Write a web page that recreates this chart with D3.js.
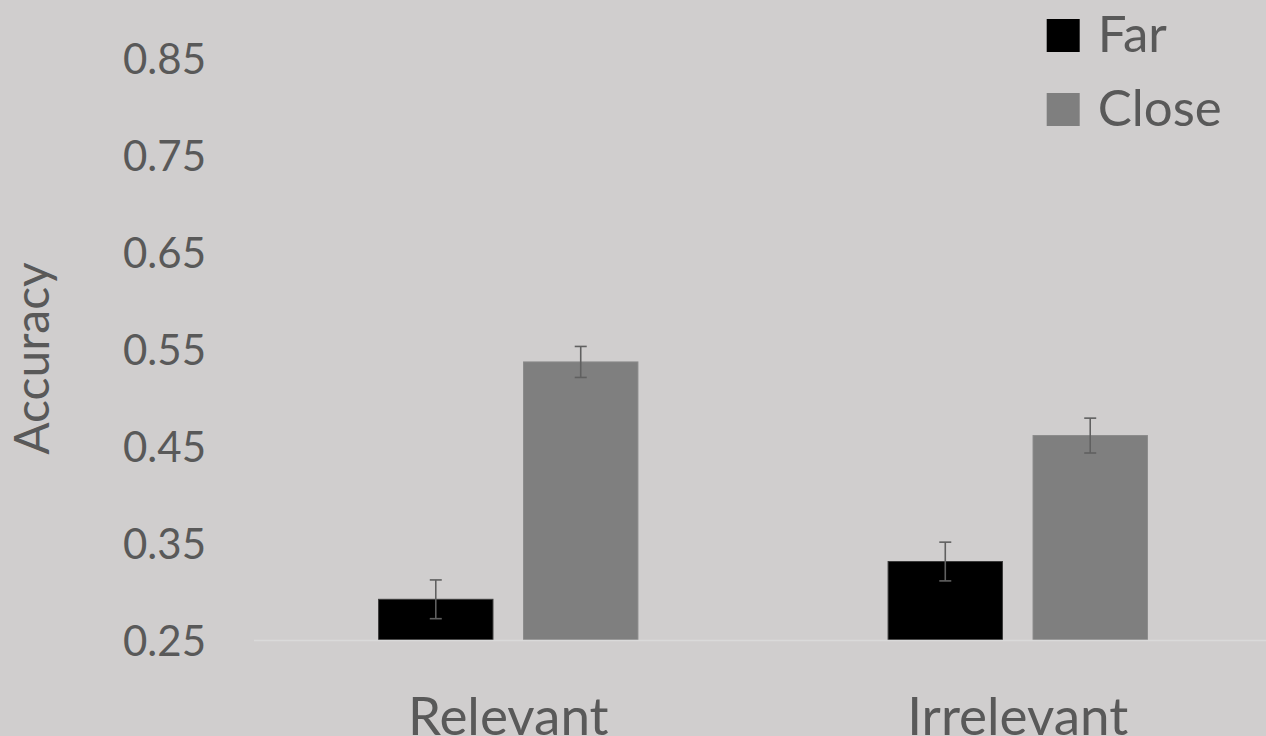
<!DOCTYPE html>
<html>
<head>
<meta charset="utf-8">
<script src="https://cdn.jsdelivr.net/npm/d3@7"></script>
<style>
  html, body { margin: 0; padding: 0; background: #D0CECE; }
  svg { display: block; }
  text { font-family: Lato, "Open Sans", sans-serif; fill: #595959; }
</style>
</head>
<body>
<svg id="chart" width="1266" height="736"></svg>
<script>
// ---- data ----
const categories = ["Relevant", "Irrelevant"];
const series = ["Far", "Close"];
const farValues = [0.292, 0.331];
const closeValues = [0.537, 0.461];
const farErrors = [0.020, 0.020];
const closeErrors = [0.016, 0.018];
const yTicks = [0.25, 0.35, 0.45, 0.55, 0.65, 0.75, 0.85];
const yTitle = "Accuracy";

// ---- build rows ----
const rows = categories.map((c, i) => ({
  category: c,
  bars: [
    { series: "Far", value: farValues[i], err: farErrors[i] },
    { series: "Close", value: closeValues[i], err: closeErrors[i] }
  ]
}));

const W = 1266, H = 736;
const svg = d3.select("#chart");
svg.append("rect").attr("width", W).attr("height", H).attr("fill", "#D0CECE");

const y = d3.scaleLinear().domain([0.25, 0.85]).range([640, 58.7]);
const x0 = d3.scaleBand().domain(categories).range([253.5, 1272.5]).paddingInner(0).paddingOuter(0);
const x1 = d3.scaleBand().domain(series).range([0, x0.bandwidth()]).paddingInner(0.211).paddingOuter(0.863);
const color = d3.scaleOrdinal().domain(series).range(["#000000", "#7F7F7F"]);
const stroke = d3.scaleOrdinal().domain(series).range(["#3a3a3a", "#8a8a8a"]);

// y axis labels
const yAxis = d3.axisLeft(y).tickValues(yTicks).tickSize(0).tickPadding(0).tickFormat(d3.format(".2f"));
const gy = svg.append("g").attr("transform", "translate(206,0)").call(yAxis);
gy.select(".domain").remove();
gy.selectAll("text")
  .attr("font-family", "Lato, 'Open Sans', sans-serif")
  .attr("font-size", 42)
  .attr("fill", "#595959")
  .attr("dy", "0.36em");

// bars
const groups = svg.append("g").selectAll("g").data(rows).join("g")
  .attr("transform", d => `translate(${x0(d.category)},0)`);

groups.selectAll("rect").data(d => d.bars).join("rect")
  .attr("x", d => x1(d.series))
  .attr("y", d => y(d.value))
  .attr("width", x1.bandwidth())
  .attr("height", d => y(0.25) - y(d.value))
  .attr("fill", d => color(d.series))
  .attr("stroke", d => stroke(d.series))
  .attr("stroke-width", 1);

// baseline axis line
const gx = svg.append("g").attr("transform", `translate(0,${y(0.25)})`)
  .call(d3.axisBottom(x0).tickSize(0).tickPadding(0).tickFormat(""));
gx.select(".domain").attr("stroke", "#DADADA").attr("stroke-width", 1.5);

// error bars
const capW = 12;
const eb = groups.selectAll("g.err").data(d => d.bars).join("g").attr("class", "err")
  .attr("stroke", "#606060").attr("stroke-width", 1.6);
eb.append("line")
  .attr("x1", d => x1(d.series) + x1.bandwidth() / 2)
  .attr("x2", d => x1(d.series) + x1.bandwidth() / 2)
  .attr("y1", d => y(d.value + d.err))
  .attr("y2", d => y(d.value - d.err));
eb.append("line")
  .attr("x1", d => x1(d.series) + x1.bandwidth() / 2 - capW / 2)
  .attr("x2", d => x1(d.series) + x1.bandwidth() / 2 + capW / 2)
  .attr("y1", d => y(d.value + d.err))
  .attr("y2", d => y(d.value + d.err));
eb.append("line")
  .attr("x1", d => x1(d.series) + x1.bandwidth() / 2 - capW / 2)
  .attr("x2", d => x1(d.series) + x1.bandwidth() / 2 + capW / 2)
  .attr("y1", d => y(d.value - d.err))
  .attr("y2", d => y(d.value - d.err));

// category labels
svg.append("g").selectAll("text").data(categories).join("text")
  .attr("x", d => x0(d) + x0.bandwidth() / 2)
  .attr("y", 735)
  .attr("text-anchor", "middle")
  .attr("font-size", 53)
  .text(d => d);

// y title
svg.append("text")
  .attr("transform", "translate(49,358.5) rotate(-90)")
  .attr("text-anchor", "middle")
  .attr("font-size", 48)
  .text(yTitle);

// legend
const legendY = d3.scalePoint().domain(series).range([52, 126]);
const lg = svg.append("g").selectAll("g").data(series).join("g")
  .attr("transform", d => `translate(1046.7,${legendY(d)})`);
lg.append("rect").attr("x", 0).attr("y", -33).attr("width", 33).attr("height", 33)
  .attr("fill", d => color(d));
lg.append("text").attr("x", 51).attr("y", 0).attr("font-size", 51).text(d => d);
</script>
</body>
</html>
